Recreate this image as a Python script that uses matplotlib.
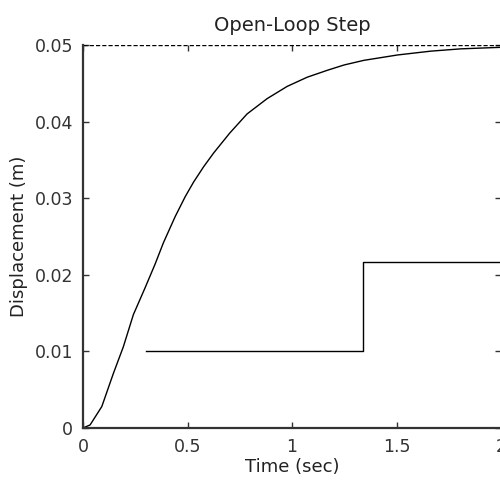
import matplotlib
matplotlib.use("Agg")
import matplotlib.pyplot as plt

plt.rcParams['font.family'] = ['DejaVu Sans']

# Step response samples
t = [0.0, 0.034, 0.09, 0.145, 0.193, 0.241, 0.297, 0.345, 0.385, 0.441, 0.489,
     0.529, 0.577, 0.625, 0.702, 0.785, 0.881, 0.977, 1.073, 1.169, 1.25,
     1.344, 1.505, 1.664, 1.808, 2.0]
y = [0.0, 0.0004, 0.0028, 0.0071, 0.0106, 0.0148, 0.0183, 0.0214, 0.0242, 0.0276, 0.0302,
     0.0321, 0.0341, 0.0359, 0.0385, 0.0410, 0.0430, 0.0446, 0.0458, 0.0467, 0.0474,
     0.0480, 0.0487, 0.0492, 0.0495, 0.0497]

# Extra stair line
step_t = [0.30, 1.34, 1.34, 2.0]
step_y = [0.0100, 0.0100, 0.0217, 0.0217]

final_value = 0.05

x_ticks = [0, 0.5, 1, 1.5, 2]
x_tick_labels = ['0', '0.5', '1', '1.5', '2']
y_ticks = [0, 0.01, 0.02, 0.03, 0.04, 0.05]
y_tick_labels = ['0', '0.01', '0.02', '0.03', '0.04', '0.05']

fig = plt.figure(figsize=(5.0, 4.83), dpi=100)
ax = fig.add_axes([0.166, 0.1139, 1.002 - 0.166, 0.9068 - 0.1139])

ax.plot(t, y, color='black', linewidth=1.0)
ax.plot(step_t, step_y, color='black', linewidth=1.0)
ax.plot([0, 2], [final_value, final_value], color='black', linewidth=1.0,
        linestyle=(0, (3, 1.5)))

ax.set_xlim(0, 2)
ax.set_ylim(0, 0.05)
ax.set_xticks(x_ticks)
ax.set_xticklabels(x_tick_labels)
ax.set_yticks(y_ticks)
ax.set_yticklabels(y_tick_labels)

ax.tick_params(direction='in', length=4, width=1, labelsize=12.5, colors='#333333',
               top=True, right=True)
ax.tick_params(axis='x', pad=7)
ax.tick_params(axis='y', pad=7)
for s in ['left', 'bottom']:
    ax.spines[s].set_linewidth(1.6)
    ax.spines[s].set_color('#333333')
ax.spines['top'].set_visible(False)
ax.spines['right'].set_linewidth(1.0)

ax.set_title('Open-Loop Step', fontsize=14, pad=10, color='#222222')
ax.set_xlabel('Time (sec)', fontsize=13, labelpad=2, color='#222222')
ax.set_ylabel('Displacement (m)', fontsize=13, labelpad=5, color='#222222')

fig.savefig('out.png', dpi=100)
